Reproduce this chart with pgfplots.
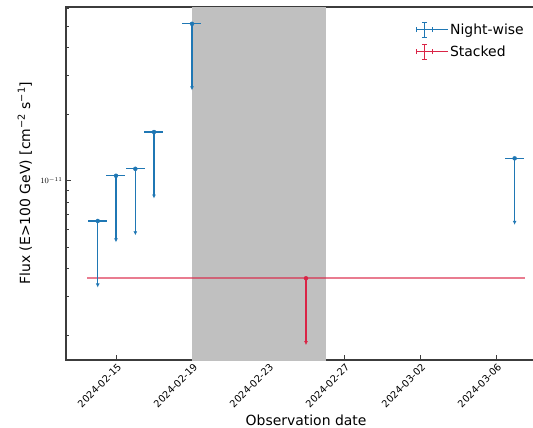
\documentclass[border=0pt]{standalone}
\usepackage{fontspec}
\setmainfont{DejaVu Sans}
\usepackage{pgfplots}
\usepackage{pgfplotstable}
\usetikzlibrary{arrows.meta}
\pgfplotsset{compat=1.18}
\definecolor{mblue}{RGB}{31,119,180}
\definecolor{mred}{RGB}{218,36,70}
\definecolor{band}{RGB}{192,192,192}
\definecolor{axcol}{RGB}{60,60,60}

% x = days since 2024-02-15 ; ul = flux upper limit ; lo = arrow end (ul/2)
\pgfplotstableread{
x ul xerr lo
-0.96 6.56e-12 0.5 3.28e-12
0.0 1.051e-11 0.5 5.25e-12
1.02 1.13e-11 0.5 5.65e-12
2.0 1.658e-11 0.5 8.29e-12
4.0 5.12e-11 0.5 2.56e-11
20.98 1.26e-11 0.5 6.3e-12
}\nightwise
\pgfplotstableread{
x ul xerr lo
10.0 3.61e-12 11.5 1.8e-12
}\stacked
\pgfplotstableread{
x y
4.0 1e-12
4.0 1e-10
11.04 1e-10
11.04 1e-12
}\band

\pgfplotsset{errcross/.style={legend image code/.code={
 \draw[##1, line width=0.9bp] (0bp,0bp) -- (16bp,0bp);
 \draw[##1, line width=0.9bp] (8bp,-7.5bp) -- (8bp,7.5bp);
 \draw[##1, line width=0.9bp] (5.5bp,7.5bp) -- (10.5bp,7.5bp);
 \draw[##1, line width=0.9bp] (5.5bp,-7.5bp) -- (10.5bp,-7.5bp);
 \draw[##1, line width=0.9bp] (0bp,-2.5bp) -- (0bp,2.5bp);
 \draw[##1, line width=0.9bp] (16bp,-2.5bp) -- (16bp,2.5bp);
 \path (0bp,0bp) -- (31bp,0bp);
}},
ularrow/.style={line width=1.3bp, forget plot, -{Latex[length=4bp,width=4bp]}}}

\begin{document}
\begin{tikzpicture}
\path[use as bounding box] (-66bp,-68bp) rectangle (467bp,360bp);
\begin{axis}[
 scale only axis, width=468bp, height=353bp,
 ymode=log, xmin=-2.63, xmax=22.0, ymin=1.54e-12, ymax=6.1e-11,
 axis line style={axcol, line width=1.2bp},
 tick pos=left, tick align=inside,
 major tick length=5bp, minor tick length=3bp,
 every tick/.style={axcol, line width=0.6bp},
 xtick={0,4,8,12,16,20},
 xticklabels={2024-02-15,2024-02-19,2024-02-23,2024-02-27,2024-03-02,2024-03-06},
 xticklabel style={xshift=6bp, yshift=-3bp, rotate=45, anchor=east, font=\fontsize{9.8}{11}\selectfont},
 ytick={1e-11}, yticklabels={$10^{-11}$},
 yticklabel style={font=\fontsize{8}{9}\selectfont},
 minor ytick={2e-12,3e-12,4e-12,5e-12,6e-12,7e-12,8e-12,9e-12,2e-11,3e-11,4e-11,5e-11,6e-11},
 xlabel={Observation date},
 xlabel style={at={(axis description cs:0.513,-0.172)}, anchor=center, font=\fontsize{14}{16}\selectfont},
 ylabel={Flux (E>100 GeV) [cm\textsuperscript{−2} s\textsuperscript{−1}]},
 ylabel style={at={(axis description cs:-0.088,0.501)}, anchor=center, font=\fontsize{14}{16}\selectfont},
 legend style={at={(rel axis cs:0.742,0.965)}, anchor=north west, draw=none, fill=none,
   font=\fontsize{14}{16}\selectfont, row sep=6bp},
 legend cell align=left,
]
\addplot[fill=band, draw=none, forget plot] table[x=x,y=y] {\band} -- cycle;

% Stacked: horizontal extent and upper-limit arrow
\addplot[mred, only marks, mark=none, forget plot,
  error bars/.cd, x dir=both, x explicit, error mark=none,
  error bar style={line width=1.8bp, mred, opacity=0.6}]
  table[x=x, y=ul, x error=xerr] {\stacked};
\addplot[mred, ularrow] coordinates {(10.0,3.61e-12) (10.0,1.8e-12)};
\addplot[mred, only marks, mark=*, mark size=1.3bp, forget plot] table[x=x, y=ul] {\stacked};

% Night-wise: caps, arrows, markers
\addplot[mblue, only marks, mark=none, forget plot,
  error bars/.cd, x dir=both, x explicit, error mark=none,
  error bar style={line width=1.3bp, mblue}]
  table[x=x, y=ul, x error=xerr] {\nightwise};
\addplot[mblue, ularrow] coordinates {(-0.96,6.56e-12) (-0.96,3.28e-12)};
\addplot[mblue, ularrow] coordinates {(0.0,1.051e-11) (0.0,5.25e-12)};
\addplot[mblue, ularrow] coordinates {(1.02,1.13e-11) (1.02,5.65e-12)};
\addplot[mblue, ularrow] coordinates {(2.0,1.658e-11) (2.0,8.29e-12)};
\addplot[mblue, ularrow] coordinates {(4.0,5.12e-11) (4.0,2.56e-11)};
\addplot[mblue, ularrow] coordinates {(20.98,1.26e-11) (20.98,6.3e-12)};
\addplot[mblue, only marks, mark=*, mark size=1.3bp, forget plot] table[x=x, y=ul] {\nightwise};

\addlegendimage{mblue, errcross}
\addlegendentry{Night-wise}
\addlegendimage{mred, errcross}
\addlegendentry{Stacked}
\end{axis}
\end{tikzpicture}
\end{document}
